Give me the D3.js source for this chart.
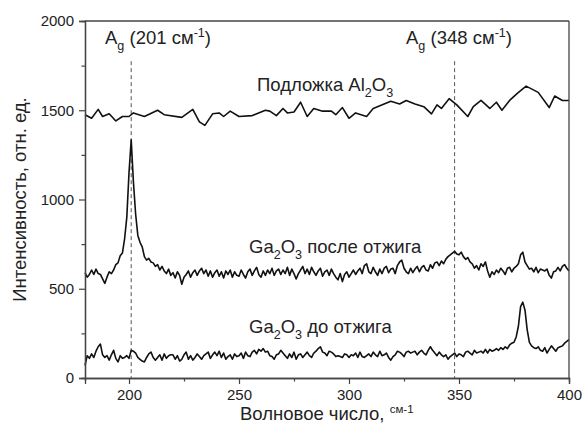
<!DOCTYPE html>
<html>
<head>
<meta charset="utf-8">
<script src="https://cdn.jsdelivr.net/npm/d3@7"></script>
<style>
  body { margin: 0; background: #fff; }
  #chart { width: 582px; height: 434px; }
  text { font-family: "Liberation Sans", Arial, sans-serif; fill: #222; }
</style>
</head>
<body>
<div id="chart"></div>
<script>
// wavenumber grid of the two Ga2O3 spectra, cm-1
const waveNumbers = d3.range(180, 401);

// Ga2O3 после отжига, 180..400 cm-1
const annealedValues = [
  590, 565, 580, 605, 580, 610, 585, 580, 555, 530,
  565, 595, 585, 605, 635, 645, 685, 700, 780, 900,
  1150, 1335, 1100, 920, 800, 760, 735, 680, 660, 670,
  650, 645, 625, 635, 605, 625, 600, 585, 610, 575,
  590, 560, 595, 575, 525, 565, 580, 600, 565, 590,
  605, 575, 600, 615, 585, 605, 570, 600, 565, 590,
  605, 570, 595, 560, 600, 580, 605, 565, 595, 575,
  570, 605, 580, 560, 595, 610, 575, 600, 620, 580,
  565, 600, 575, 605, 585, 615, 575, 600, 610, 580,
  605, 585, 620, 575, 610, 585, 555, 585, 605, 625,
  585, 610, 580, 620, 595, 575, 600, 615, 570, 595,
  605, 575, 610, 585, 565, 550, 585, 540, 580, 595,
  565, 585, 605, 580, 600, 615, 585, 630, 640, 595,
  585, 620, 595, 575, 610, 585, 615, 625, 590, 610,
  615, 585, 630, 650, 660, 615, 595, 585, 615, 590,
  610, 625, 595, 620, 630, 605, 600, 635, 615, 645,
  650, 630, 655, 640, 665, 680, 690, 700, 710, 695,
  690, 705, 680, 665, 675, 650, 640, 615, 630, 605,
  640, 625, 650, 600, 565, 595, 580, 605, 590, 615,
  600, 580, 615, 620, 595, 615, 625, 640, 690, 705,
  650, 630, 610, 615, 595, 620, 590, 610, 605, 600,
  610, 575, 560, 595, 600, 620, 600, 625, 635, 615,
  600
];

// Ga2O3 до отжига, 180..400 cm-1
const asDepositedValues = [
  70, 125, 110, 135, 115, 150, 175, 190, 130, 115,
  125, 100, 130, 155, 110, 90, 125, 110, 115, 125,
  110, 155, 150, 140, 115, 105, 95, 90, 115, 135,
  145, 115, 100, 115, 130, 100, 135, 110, 125, 130,
  130, 105, 125, 95, 105, 130, 145, 105, 125, 100,
  115, 135, 120, 105, 125, 135, 145, 110, 130, 145,
  125, 150, 115, 140, 105, 120, 130, 105, 135, 120,
  125, 140, 110, 145, 125, 120, 145, 155, 135, 160,
  150, 165, 145, 150, 125, 120, 105, 130, 135, 155,
  140, 125, 110, 135, 115, 145, 105, 130, 135, 115,
  130, 145, 125, 115, 140, 150, 165, 175, 145, 140,
  125, 150, 145, 135, 120, 125, 120, 115, 135, 130,
  115, 130, 125, 140, 115, 145, 120, 115, 125, 135,
  120, 145, 130, 120, 150, 125, 130, 140, 115, 100,
  120, 130, 150, 145, 135, 120, 145, 150, 140, 145,
  150, 130, 145, 155, 140, 130, 155, 175, 155, 140,
  125, 145, 130, 120, 130, 105, 120, 130, 140, 120,
  135, 130, 120, 145, 150, 140, 130, 155, 140, 145,
  150, 140, 160, 140, 160, 150, 155, 165, 155, 170,
  160, 175, 165, 185, 195, 200, 230, 290, 400, 425,
  380, 270, 200, 180, 170, 165, 175, 155, 150, 170,
  140, 160, 180, 165, 150, 170, 175, 180, 195, 205,
  215
];

// Подложка Al2O3 (coarser sampling)
const substrateX = [
  180, 183, 186, 188, 191, 194, 197, 200, 202, 207,
  213, 216, 224, 229, 232, 234.5, 238, 241, 243, 246,
  250, 256, 262, 264, 267, 270, 272, 275, 278, 281,
  284, 288, 292, 294, 297, 300, 303, 308, 311, 319,
  323, 326, 330, 334, 337.5, 340, 342, 345.5, 349, 354,
  356.5, 360, 364, 367, 369.5, 373, 376.5, 380.5, 386, 391,
  393.5, 397, 400
];
const substrateY = [
  1475, 1455, 1505, 1465, 1480, 1440, 1465, 1465, 1485, 1465,
  1500, 1475, 1460, 1505, 1435, 1415, 1480, 1485, 1465, 1495,
  1465, 1470, 1500, 1495, 1470, 1510, 1485, 1490, 1545, 1465,
  1510, 1495, 1495, 1475, 1515, 1455, 1485, 1465, 1510, 1550,
  1535, 1555, 1535, 1520, 1480, 1530, 1510, 1565, 1530, 1465,
  1520, 1555, 1510, 1545, 1500, 1555, 1595, 1635, 1600, 1515,
  1580, 1555, 1555
];

const xTicks = [200, 250, 300, 350, 400];
const xMinorTicks = [225, 275, 325, 375];
const yTicks = [0, 500, 1000, 1500, 2000];
const yMinorTicks = [250, 750, 1250, 1750];
const modeLines = [201, 348];

class RamanChart {
  constructor(el) {
    this.el = el;
    this.initChart();
  }

  initChart() {
    const that = this;
    const width = 582;
    const height = 434;
    const margin = { left: 85, right: 13, top: 21, bottom: 56 };
    const innerWidth = width - margin.left - margin.right;
    const innerHeight = height - margin.top - margin.bottom;

    const svg = d3
      .select(`#${that.el}`)
      .append("svg")
      .attr("width", width)
      .attr("height", height);

    const g = svg
      .append("g")
      .attr("transform", `translate(${margin.left},${margin.top})`);

    const x = d3.scaleLinear().domain([180, 400]).range([0, innerWidth]);
    const y = d3.scaleLinear().domain([0, 2000]).range([innerHeight, 0]);

    // dashed guides for the Ag modes
    g.selectAll(".mode")
      .data(modeLines)
      .join("line")
      .attr("class", "mode")
      .attr("x1", (d) => x(d))
      .attr("x2", (d) => x(d))
      .attr("y1", y(1775))
      .attr("y2", innerHeight)
      .attr("stroke", "#555")
      .attr("stroke-width", 1)
      .attr("stroke-dasharray", "4,3");

    const line = d3
      .line()
      .x((d) => x(d[0]))
      .y((d) => y(d[1]));

    const series = [
      d3.zip(substrateX, substrateY),
      d3.zip(waveNumbers, annealedValues),
      d3.zip(waveNumbers, asDepositedValues),
    ];

    g.selectAll(".spectrum")
      .data(series)
      .join("path")
      .attr("class", "spectrum")
      .attr("d", line)
      .attr("fill", "none")
      .attr("stroke", "#111")
      .attr("stroke-width", 1.6)
      .attr("stroke-linejoin", "round");

    // axes
    const axisColor = "#444";
    const fmt = d3.format("d");
    g.append("g")
      .attr("transform", `translate(0,${innerHeight})`)
      .call(d3.axisBottom(x).tickValues(xTicks).tickFormat(fmt).tickSize(6).tickPadding(5));
    g.append("g")
      .attr("transform", `translate(0,${innerHeight})`)
      .call(d3.axisBottom(x).tickValues(xMinorTicks).tickSize(3.5).tickFormat(""));
    g.append("g")
      .call(d3.axisLeft(y).tickValues(yTicks).tickFormat(fmt).tickSize(6).tickPadding(5));
    g.append("g")
      .call(d3.axisLeft(y).tickValues(yMinorTicks).tickSize(3.5).tickFormat(""));

    g.selectAll(".domain").attr("stroke", axisColor).attr("stroke-width", 1.3);
    g.selectAll(".tick line").attr("stroke", axisColor).attr("stroke-width", 1.2);
    g.selectAll(".tick text")
      .style("font-size", "15px")
      .style("font-family", "'Liberation Sans', Arial, sans-serif")
      .attr("fill", "#222");

    // top and right spines
    g.append("line")
      .attr("x1", 0).attr("x2", innerWidth)
      .attr("y1", 0).attr("y2", 0)
      .attr("stroke", axisColor).attr("stroke-width", 1.3);
    g.append("line")
      .attr("x1", innerWidth).attr("x2", innerWidth)
      .attr("y1", 0).attr("y2", innerHeight)
      .attr("stroke", axisColor).attr("stroke-width", 1.3);

    // text with sub/superscripts
    function rich(parent, px, py, parts, size, anchor) {
      const t = parent
        .append("text")
        .attr("x", px)
        .attr("y", py)
        .attr("text-anchor", anchor || "start")
        .style("font-size", size + "px");
      let shift = 0;
      parts.forEach((p) => {
        const target = p.sub ? size * 0.3 : p.sup ? -size * 0.38 : 0;
        t.append("tspan")
          .attr("dy", target - shift)
          .style("font-size", (p.sub || p.sup ? (p.size || size * 0.68) : size) + "px")
          .text(p.t);
        shift = target;
      });
      return t;
    }

    rich(svg, 105, 44, [
      { t: "A" }, { t: "g", sub: true }, { t: " (201 см" }, { t: "-1", sup: true }, { t: ")" },
    ], 18.5);
    rich(svg, 406, 44, [
      { t: "A" }, { t: "g", sub: true }, { t: " (348 см" }, { t: "-1", sup: true }, { t: ")" },
    ], 18.5);
    rich(svg, 257, 91, [
      { t: "Подложка Al" }, { t: "2", sub: true }, { t: "O" }, { t: "3", sub: true },
    ], 18.5);
    rich(svg, 249, 253, [
      { t: "Ga" }, { t: "2", sub: true }, { t: "O" }, { t: "3", sub: true }, { t: " после отжига" },
    ], 18.5);
    rich(svg, 249, 333, [
      { t: "Ga" }, { t: "2", sub: true }, { t: "O" }, { t: "3", sub: true }, { t: " до отжига" },
    ], 18.5);

    // axis titles
    rich(svg, 240, 420, [
      { t: "Волновое число, " }, { t: "см-1", sup: true, size: 11.5 },
    ], 18.5);

    svg.append("text")
      .attr("transform", `translate(26,${margin.top + innerHeight / 2}) rotate(-90)`)
      .attr("text-anchor", "middle")
      .style("font-size", "18.5px")
      .text("Интенсивность, отн. ед.");
  }
}

new RamanChart("chart");
</script>
</body>
</html>
